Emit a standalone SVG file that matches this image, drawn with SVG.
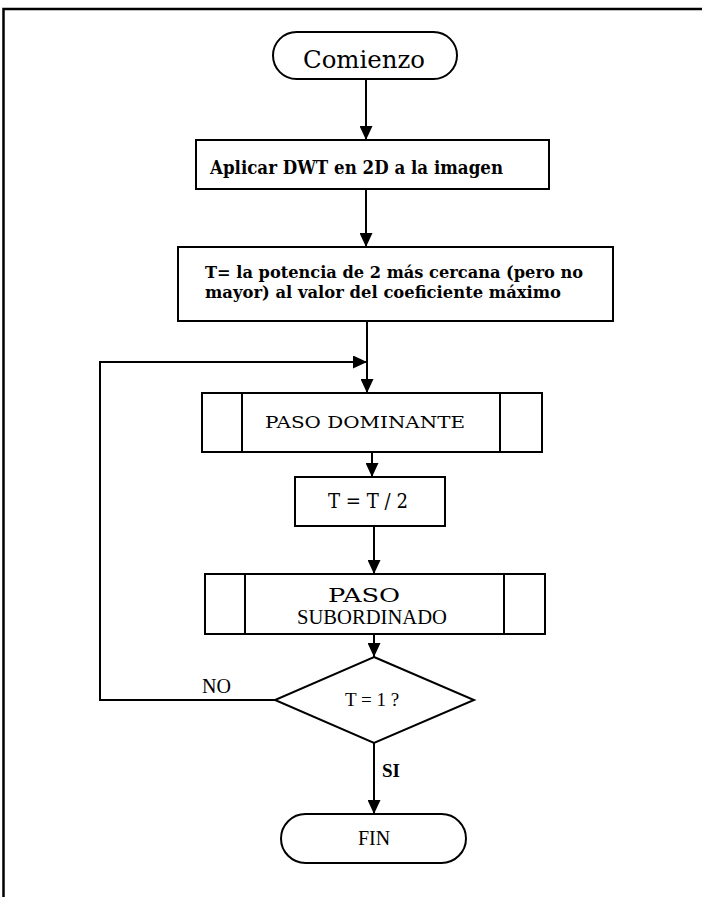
<svg xmlns="http://www.w3.org/2000/svg" width="702" height="897" viewBox="0 0 702 897">
<style>
.s{fill:#fff;stroke:#000;stroke-width:2}
.c{fill:none;stroke:#000;stroke-width:2}
.b{font-family:"DejaVu Serif","Liberation Serif",serif;fill:#000}
.t{font-family:"Liberation Serif","Times New Roman",serif;fill:#000}
</style>
<defs>
<marker id="ah" markerUnits="userSpaceOnUse" markerWidth="15" markerHeight="13" refX="14" refY="6.5" orient="auto">
<path d="M0,0 L14,6.5 L0,13 z" fill="#000"/>
</marker>
</defs>
<rect width="702" height="897" fill="#fff"/>
<path d="M3.5,897 V9 H702" fill="none" stroke="#000" stroke-width="2.5"/>
<g id="connectors">
<line class="c" x1="366" y1="79" x2="366" y2="140" marker-end="url(#ah)"/>
<line class="c" x1="366" y1="189" x2="366" y2="247" marker-end="url(#ah)"/>
<line class="c" x1="367" y1="321" x2="367" y2="393" marker-end="url(#ah)"/>
<polyline class="c" points="275,700 100,700 100,362 367,362" marker-end="url(#ah)"/>
<line class="c" x1="372" y1="452" x2="372" y2="477" marker-end="url(#ah)"/>
<line class="c" x1="374" y1="526" x2="374" y2="574" marker-end="url(#ah)"/>
<line class="c" x1="374" y1="634" x2="374" y2="657" marker-end="url(#ah)"/>
<line class="c" x1="374" y1="743" x2="374" y2="814" marker-end="url(#ah)"/>
<text class="t" x="202" y="693" font-size="20">NO</text>
<text class="t" x="382" y="777" font-size="19" font-weight="bold">SI</text>
</g>
<g id="start">
<rect class="s" x="273" y="32" width="184" height="47" rx="23.5"/>
<text class="b" x="303" y="68" font-size="25" textLength="122" lengthAdjust="spacingAndGlyphs">Comienzo</text>
</g>
<g id="dwt">
<rect class="s" x="196" y="140" width="353" height="49"/>
<text class="b" x="210" y="174" font-size="18" font-weight="bold" textLength="293" lengthAdjust="spacingAndGlyphs">Aplicar DWT en 2D a la imagen</text>
</g>
<g id="threshold">
<rect class="s" x="178" y="247" width="435" height="74"/>
<text class="b" x="205" y="278" font-size="17" font-weight="bold" textLength="378" lengthAdjust="spacingAndGlyphs">T= la potencia de 2 más cercana (pero no</text>
<text class="b" x="205" y="298" font-size="17" font-weight="bold" textLength="356" lengthAdjust="spacingAndGlyphs">mayor) al valor del coeficiente máximo</text>
</g>
<g id="dominante">
<rect class="s" x="202" y="393" width="340" height="59"/>
<line class="c" x1="242" y1="393" x2="242" y2="452"/>
<line class="c" x1="500" y1="393" x2="500" y2="452"/>
<text class="b" x="265" y="428" font-size="17" textLength="200" lengthAdjust="spacingAndGlyphs">PASO  DOMINANTE</text>
</g>
<g id="halve">
<rect class="s" x="295" y="477" width="150" height="49"/>
<text class="b" x="328" y="508" font-size="20" textLength="80" lengthAdjust="spacingAndGlyphs">T = T / 2</text>
</g>
<g id="subordinado">
<rect class="s" x="205" y="574" width="340" height="60"/>
<line class="c" x1="245" y1="574" x2="245" y2="634"/>
<line class="c" x1="504" y1="574" x2="504" y2="634"/>
<text class="b" x="328" y="602" font-size="18" textLength="72" lengthAdjust="spacingAndGlyphs">PASO</text>
<text class="t" x="297" y="624" font-size="20" textLength="150" lengthAdjust="spacingAndGlyphs">SUBORDINADO</text>
</g>
<g id="decision">
<polygon class="s" points="374,657 474,700 374,743 275,700"/>
<text class="t" x="372" y="706" font-size="19" text-anchor="middle">T = 1 ?</text>
</g>
<g id="end">
<rect class="s" x="281" y="814" width="185" height="49" rx="24.5"/>
<text class="t" x="374" y="845" font-size="20" text-anchor="middle">FIN</text>
</g>
</svg>
